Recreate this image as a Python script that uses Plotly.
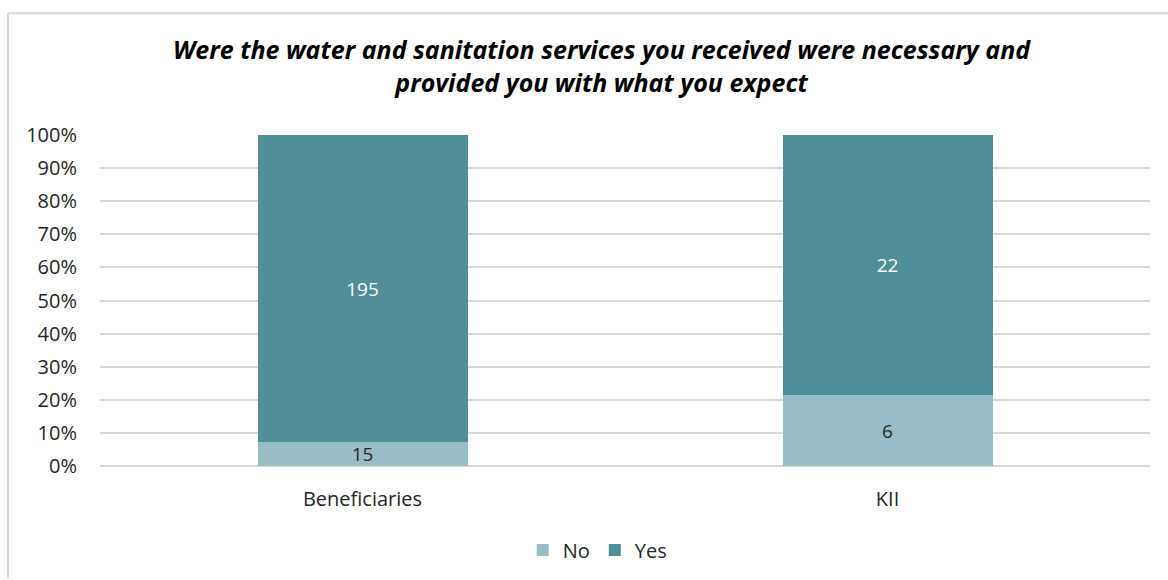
import plotly.graph_objects as go

# Survey responses (counts); bars are normalised to 100% per group
categories = ["Beneficiaries", "KII"]
no_counts = [15, 6]
yes_counts = [195, 22]

y_ticks = [0, 10, 20, 30, 40, 50, 60, 70, 80, 90, 100]
y_tick_labels = [f"{v}%" for v in y_ticks]

title_text = ("<b><i>Were the water and sanitation services you received were necessary and"
              "<br>provided you with what you expect</i></b>")

FONT = "Open Sans, Segoe UI, sans-serif"
NO_COLOR = "#98BEC5"
YES_COLOR = "#508E98"
TEXT_COLOR = "#262626"

fig = go.Figure()
fig.add_trace(go.Bar(
    name="No", x=categories, y=no_counts, text=[str(v) for v in no_counts],
    marker=dict(color=NO_COLOR, line=dict(width=0)),
    textposition="inside", insidetextanchor="middle", constraintext="none",
    textangle=0,
    insidetextfont=dict(color=TEXT_COLOR, size=19, family=FONT),
    width=0.4,
))
fig.add_trace(go.Bar(
    name="Yes", x=categories, y=yes_counts, text=[str(v) for v in yes_counts],
    marker=dict(color=YES_COLOR, line=dict(width=0)),
    textposition="inside", insidetextanchor="middle", constraintext="none",
    textangle=0,
    insidetextfont=dict(color="white", size=19, family=FONT),
    width=0.4,
))

fig.update_layout(
    barmode="stack",
    barnorm="percent",
    width=1168, height=580,
    margin=dict(l=100, r=18, t=135, b=113),
    paper_bgcolor="white", plot_bgcolor="white",
    font=dict(family=FONT, size=20, color=TEXT_COLOR),
    title=dict(text=title_text, x=0.515, xanchor="center", xref="container",
               y=1 - 59 / 580, yanchor="middle", yref="container",
               font=dict(size=25, color="black", family=FONT)),
    xaxis=dict(showgrid=False, showline=False, ticks="", tickfont=dict(size=20),
               range=[-0.5, 1.5], ticklabelstandoff=19),
    yaxis=dict(range=[0, 100], tickvals=y_ticks, ticktext=y_tick_labels,
               showgrid=True, gridcolor="#D9D9D9", gridwidth=1.5,
               zeroline=True, zerolinecolor="#D9D9D9", zerolinewidth=1.5,
               showline=False, ticks="", ticklen=0, tickfont=dict(size=20),
               ticklabelstandoff=22),
    legend=dict(orientation="h", x=0.474, xanchor="center", y=-0.25, yanchor="middle",
                font=dict(size=20), traceorder="normal", itemclick=False,
                itemwidth=30),
    showlegend=True,
    shapes=[
        # chart border (top and left edges visible)
        dict(type="line", xref="paper", yref="paper",
             x0=(8 - 100) / 1050, x1=(1168 - 100) / 1050,
             y0=(467 - 13) / 332, y1=(467 - 13) / 332,
             line=dict(color="#D9D9D9", width=2)),
        dict(type="line", xref="paper", yref="paper",
             x0=(8 - 100) / 1050, x1=(8 - 100) / 1050,
             y0=(467 - 13) / 332, y1=(467 - 580) / 332,
             line=dict(color="#D9D9D9", width=2)),
    ],
)

fig.write_html("out.html")
